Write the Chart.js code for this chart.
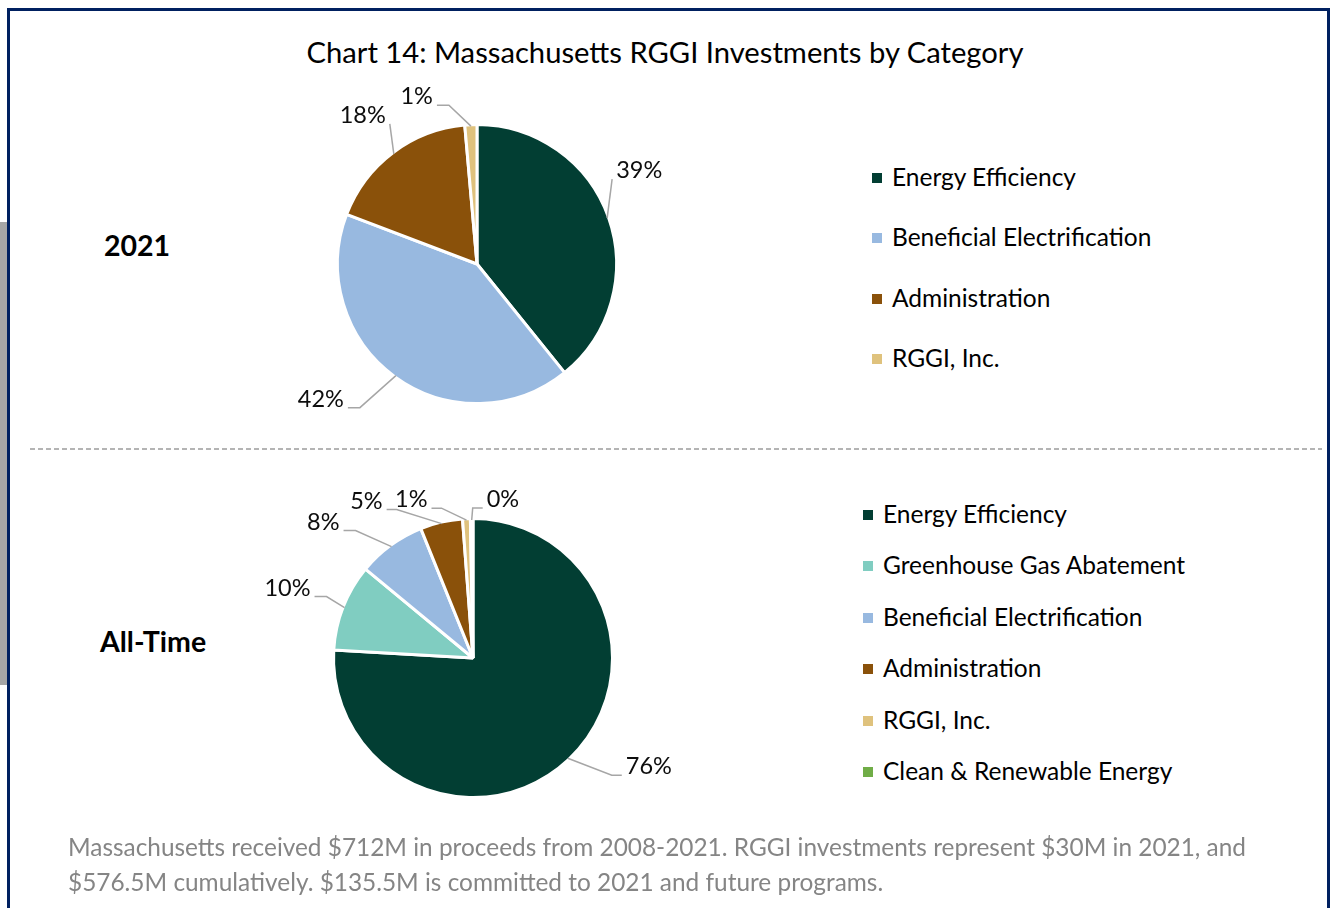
<!DOCTYPE html>
<html>
<head>
<meta charset="utf-8">
<title>Massachusetts RGGI Investments by Category</title>
<script src="https://cdn.jsdelivr.net/npm/chart.js@4.4.1/dist/chart.umd.min.js"></script>
<style>
    html, body { margin: 0; padding: 0; background: #ffffff; }
    body { width: 1330px; height: 908px; position: relative; overflow: hidden; font-family: 'Lato', 'Open Sans', sans-serif; color: #000; }
    .frame { position: absolute; left: 7px; top: 8px; width: 1323px; height: 1000px; box-sizing: border-box; border: 3px solid #002060; border-bottom: none; }
    .side-bar { position: absolute; left: 0; top: 222px; width: 7px; height: 463px; background: #a6a6a6; }
    .title { position: absolute; left: 0; width: 1330px; top: 32px; text-align: center; font-size: 29.2px; line-height: 40px; }
    .row-label { position: absolute; font-weight: bold; font-size: 28.5px; line-height: 34px; }
    .divider { position: absolute; left: 30px; top: 448px; width: 1292px; height: 1.5px;
        background: repeating-linear-gradient(to right, #b4b4b4 0 5px, transparent 5px 8px); }
    .legend { position: absolute; list-style: none; margin: 0; padding: 0; font-size: 24.5px; }
    .legend li { position: absolute; left: 0; white-space: nowrap; height: 30px; line-height: 30px; }
    .legend .swatch { position: absolute; left: 0; top: 10px; width: 10px; height: 10px; }
    .legend .text { position: absolute; left: 20px; top: -1px; }
    .chart-box { position: absolute; width: 440px; height: 400px; }
    .note { position: absolute; left: 68px; top: 829px; font-size: 24.4px; line-height: 35px; color: #858585; white-space: nowrap; }
</style>
</head>
<body>
<div class="side-bar"></div>
<div class="frame"></div>
<div class="title" id="title"></div>

<div class="row-label" style="left:104px; top:228px;">2021</div>
<div class="row-label" style="left:100px; top:624px;">All-Time</div>

<div class="chart-box" style="left:257px; top:64px;"><canvas id="pie2021"></canvas></div>
<ul class="legend" id="legend2021" style="left:872px; top:163px;"></ul>

<div class="divider"></div>

<div class="chart-box" style="left:253px; top:458px;"><canvas id="pieAllTime"></canvas></div>
<ul class="legend" id="legendAllTime" style="left:863px; top:500px;"></ul>

<div class="note" id="note"></div>

<script>
// Data
const chartTitle = 'Chart 14: Massachusetts RGGI Investments by Category';

const categories2021 = ['Energy Efficiency', 'Beneficial Electrification', 'Administration', 'RGGI, Inc.'];
const shares2021 = [39.2, 41.6, 17.8, 1.4];

const categoriesAllTime = ['Energy Efficiency', 'Greenhouse Gas Abatement', 'Beneficial Electrification', 'Administration', 'RGGI, Inc.', 'Clean & Renewable Energy'];
const sharesAllTime = [75.9, 10.1, 7.9, 4.9, 0.9, 0.3];

const noteLines = [
    'Massachusetts received $712M in proceeds from 2008-2021. RGGI investments represent $30M in 2021, and',
    '$576.5M cumulatively. $135.5M is committed to 2021 and future programs.'
];

// Colores por categoría
const CATEGORY_COLORS = {
    'Energy Efficiency': '#023e33',
    'Greenhouse Gas Abatement': '#80cdc1',
    'Beneficial Electrification': '#98b9e0',
    'Administration': '#8a510a',
    'RGGI, Inc.': '#dfc27d',
    'Clean & Renewable Energy': '#70ad47'
};

// Posición de las etiquetas: codo de la línea guía relativo al borde del sector
const labelLayout2021 = [
    { dx: 5, dy: -39, tail: 0, side: 'right' },
    { dx: -36, dy: 32, tail: -12, side: 'left' },
    { dx: -4, dy: -30, tail: 0, side: 'left' },
    { dx: -22, dy: -21, tail: -12, side: 'left' }
];
const labelLayoutAllTime = [
    { dx: 44, dy: 17, tail: 10, side: 'right' },
    { dx: -18, dy: -11, tail: -12, side: 'left' },
    { dx: -36, dy: -16, tail: -12, side: 'left' },
    { dx: -45, dy: -14, tail: -10, side: 'left' },
    { dx: -25, dy: -12, tail: -10, side: 'left' },
    { dx: 1, dy: -12, tail: 10, side: 'right' }
];

// Etiquetas de porcentaje con línea guía, estilo Excel
const leaderLabels = {
    id: 'leaderLabels',
    afterDatasetsDraw(chart, args, opts) {
        const ctx = chart.ctx;
        const meta = chart.getDatasetMeta(0);
        const values = chart.data.datasets[0].data;
        const total = values.reduce((a, b) => a + b, 0);

        ctx.save();
        meta.data.forEach((arc, i) => {
            const place = opts.layout[i];
            const mid = (arc.startAngle + arc.endAngle) / 2;
            const r = arc.outerRadius - 1.5;
            const x0 = arc.x + Math.cos(mid) * r;
            const y0 = arc.y + Math.sin(mid) * r;
            const x1 = x0 + place.dx;
            const y1 = y0 + place.dy;
            const x2 = x1 + place.tail;

            ctx.beginPath();
            ctx.moveTo(x0, y0);
            ctx.lineTo(x1, y1);
            ctx.lineTo(x2, y1);
            ctx.strokeStyle = '#a6a6a6';
            ctx.lineWidth = 1.5;
            ctx.stroke();

            const text = Math.round(values[i] / total * 100) + '%';
            ctx.font = '23.5px Lato, "Open Sans", sans-serif';
            ctx.fillStyle = '#0d0d0d';
            ctx.textBaseline = 'alphabetic';
            if (place.side === 'right') {
                ctx.textAlign = 'left';
                ctx.fillText(text, x2 + 4, y1 - 1);
            } else {
                ctx.textAlign = 'right';
                ctx.fillText(text, x2 - 4, y1 - 1);
            }
        });
        ctx.restore();
    }
};

function createPie(canvasId, labels, values, layout) {
    const ctx = document.getElementById(canvasId);
    return new Chart(ctx, {
        type: 'pie',
        data: {
            labels: labels,
            datasets: [{
                data: values,
                backgroundColor: labels.map(l => CATEGORY_COLORS[l]),
                borderColor: '#ffffff',
                borderWidth: 3
            }]
        },
        options: {
            responsive: true,
            maintainAspectRatio: false,
            animation: false,
            radius: 139.5,
            layout: { padding: 0 },
            plugins: {
                legend: { display: false },
                tooltip: { enabled: false },
                leaderLabels: { layout: layout }
            }
        },
        plugins: [leaderLabels]
    });
}

function buildLegend(listId, labels, rowGap) {
    const list = document.getElementById(listId);
    labels.forEach((label, i) => {
        const li = document.createElement('li');
        li.style.top = (i * rowGap) + 'px';
        const sw = document.createElement('span');
        sw.className = 'swatch';
        sw.style.background = CATEGORY_COLORS[label];
        const tx = document.createElement('span');
        tx.className = 'text';
        tx.textContent = label;
        li.appendChild(sw);
        li.appendChild(tx);
        list.appendChild(li);
    });
}

document.getElementById('title').textContent = chartTitle;
document.getElementById('note').innerHTML = noteLines.join('<br>');

createPie('pie2021', categories2021, shares2021, labelLayout2021);
createPie('pieAllTime', categoriesAllTime, sharesAllTime, labelLayoutAllTime);

buildLegend('legend2021', categories2021, 60.3);
buildLegend('legendAllTime', categoriesAllTime, 51.4);
</script>
</body>
</html>
